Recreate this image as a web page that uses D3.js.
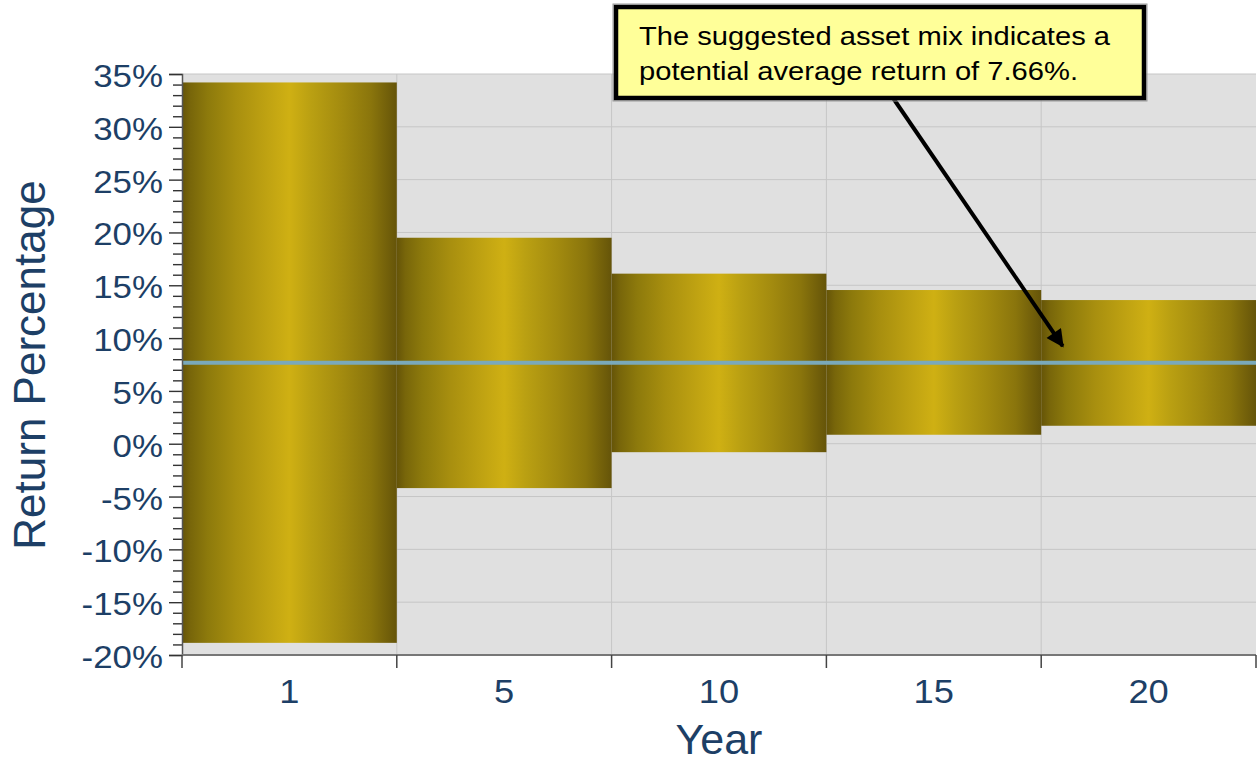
<!DOCTYPE html>
<html><head><meta charset="utf-8">
<script src="https://cdn.jsdelivr.net/npm/d3@7"></script>
<style>html,body{margin:0;padding:0;background:#fff;}svg{display:block;}</style>
</head><body>
<svg id="chart" width="1257" height="763"></svg>
<script>
// ---- data ----
const years = ["1", "5", "10", "15", "20"];
const highs = [34.2, 19.5, 16.1, 14.55, 13.6];
const lows = [-18.85, -4.2, -0.8, 0.85, 1.7];
const average = 7.66;
const yTicks = [-20, -15, -10, -5, 0, 5, 10, 15, 20, 25, 30, 35];
const annotationLines = ["The suggested asset mix indicates a", "potential average return of 7.66%."];
const arrowTarget = {year: "20", offset: 0.1, value: 9.25};

// ---- layout ----
const svg = d3.select("#chart");
const L = 182, R = 1256, T = 74, B = 655;
const x = d3.scaleBand().domain(years).range([L, R]).padding(0);
const y = d3.scaleLinear().domain([-20, 35]).range([B, T]);
const navy = "#1d3f66";
const font = "Liberation Sans, Arial, Helvetica, sans-serif";
function stretch(sel, k) {
  sel.each(function () { const w = this.getComputedTextLength(); d3.select(this).attr("textLength", w * k).attr("lengthAdjust", "spacingAndGlyphs"); });
}

// gradient
const defs = svg.append("defs");
const g = defs.append("linearGradient").attr("id", "barGrad").attr("x1", 0).attr("x2", 1).attr("y1", 0).attr("y2", 0);
[[0, "#655408"], [0.04, "#78660a"], [0.12, "#8d7a0c"], [0.25, "#a88f0f"], [0.4, "#c0a312"], [0.5, "#cfb013"],
 [0.6, "#baa012"], [0.75, "#a28a0f"], [0.88, "#8a750c"], [1, "#655409"]].forEach(s =>
  g.append("stop").attr("offset", s[0]).attr("stop-color", s[1]));
const ah = defs.append("marker").attr("id", "arrowHead").attr("viewBox", "0 0 10 10").attr("refX", 9).attr("refY", 5)
  .attr("markerWidth", 5).attr("markerHeight", 4.4).attr("markerUnits", "strokeWidth").attr("orient", "auto");
ah.append("path").attr("d", "M0,0 L10,5 L0,10 z").attr("fill", "#000");

// plot background
svg.append("rect").attr("x", L).attr("y", T).attr("width", R - L).attr("height", B - T).attr("fill", "#e0e0e0");

// grid
svg.append("g").selectAll("line").data(yTicks).join("line")
  .attr("x1", L).attr("x2", R).attr("y1", d => y(d)).attr("y2", d => y(d))
  .attr("stroke", "#c6c6c6").attr("stroke-width", 1);
svg.append("g").selectAll("line").data(years.slice(1)).join("line")
  .attr("x1", d => x(d)).attr("x2", d => x(d)).attr("y1", T).attr("y2", B)
  .attr("stroke", "#c6c6c6").attr("stroke-width", 1);

// bars
svg.append("g").selectAll("rect").data(years).join("rect")
  .attr("x", d => x(d)).attr("width", x.bandwidth())
  .attr("y", (d, i) => y(highs[i])).attr("height", (d, i) => y(lows[i]) - y(highs[i]))
  .attr("fill", "url(#barGrad)");

// average line
svg.append("line").attr("x1", L).attr("x2", R).attr("y1", y(average)).attr("y2", y(average))
  .attr("stroke", "#7aa9ba").attr("stroke-width", 4);

// y axis (minor ticks)
const minor = d3.range(-20, 36, 1).filter(v => v % 5 !== 0);
svg.append("g").attr("transform", `translate(${L},0)`)
  .call(d3.axisLeft(y).tickValues(minor).tickSize(9).tickFormat(""))
  .call(a => a.select(".domain").remove())
  .call(a => a.selectAll("line").attr("stroke", "#333").attr("stroke-width", 1.4));
// y axis (major)
const yAx = svg.append("g").attr("transform", `translate(${L},0)`)
  .call(d3.axisLeft(y).tickValues(yTicks).tickSize(13).tickPadding(6).tickFormat(d => d + "%"));
yAx.select(".domain").attr("stroke", "#555").attr("stroke-width", 1.5);
yAx.selectAll("line").attr("stroke", "#333").attr("stroke-width", 1.4);
yAx.selectAll("text").attr("font-family", font).attr("font-size", 32).attr("fill", navy).attr("dy", "0.39em")
  .call(stretch, 1.09);

// x axis
svg.append("line").attr("x1", L).attr("x2", R).attr("y1", B).attr("y2", B).attr("stroke", "#777").attr("stroke-width", 2);
const bounds = years.map(d => x(d)).concat([x(years[years.length - 1]) + x.bandwidth()]);
svg.append("g").selectAll("line").data(bounds).join("line")
  .attr("x1", d => d).attr("x2", d => d).attr("y1", B).attr("y2", B + 13)
  .attr("stroke", "#444").attr("stroke-width", 1.5);
svg.append("g").selectAll("text").data(years).join("text")
  .attr("x", d => x(d) + x.bandwidth() / 2).attr("y", 703).attr("text-anchor", "middle")
  .attr("font-family", font).attr("font-size", 33).attr("fill", navy).text(d => d)
  .call(stretch, 1.1);

// axis titles
svg.append("text").attr("x", (L + R) / 2).attr("y", 754).attr("text-anchor", "middle")
  .attr("font-family", font).attr("font-size", 43).attr("fill", navy).text("Year");
svg.append("text").attr("transform", "translate(45,365) rotate(-90)").attr("text-anchor", "middle")
  .attr("font-family", font).attr("font-size", 44).attr("fill", navy).text("Return Percentage");

// arrow
const tipX = x(arrowTarget.year) + x.bandwidth() * arrowTarget.offset;
const tipY = y(arrowTarget.value);
svg.append("line").attr("x1", 891).attr("y1", 95).attr("x2", tipX).attr("y2", tipY)
  .attr("stroke", "#000").attr("stroke-width", 4).attr("marker-end", "url(#arrowHead)");

// annotation box
svg.append("rect").attr("x", 613).attr("y", 4).attr("width", 534).attr("height", 97)
  .attr("fill", "none").attr("stroke", "#9a9a9a").attr("stroke-width", 1);
svg.append("rect").attr("x", 616).attr("y", 7).attr("width", 528).attr("height", 91)
  .attr("fill", "#ffff99").attr("stroke", "#000").attr("stroke-width", 4.5);
const lens = [471, 439];
svg.append("g").selectAll("text").data(annotationLines).join("text")
  .attr("x", 639).attr("y", (d, i) => 45 + i * 35)
  .attr("font-family", font).attr("font-size", 26.5).attr("fill", "#000")
  .attr("textLength", (d, i) => lens[i]).attr("lengthAdjust", "spacingAndGlyphs").text(d => d);
</script>
</body></html>
